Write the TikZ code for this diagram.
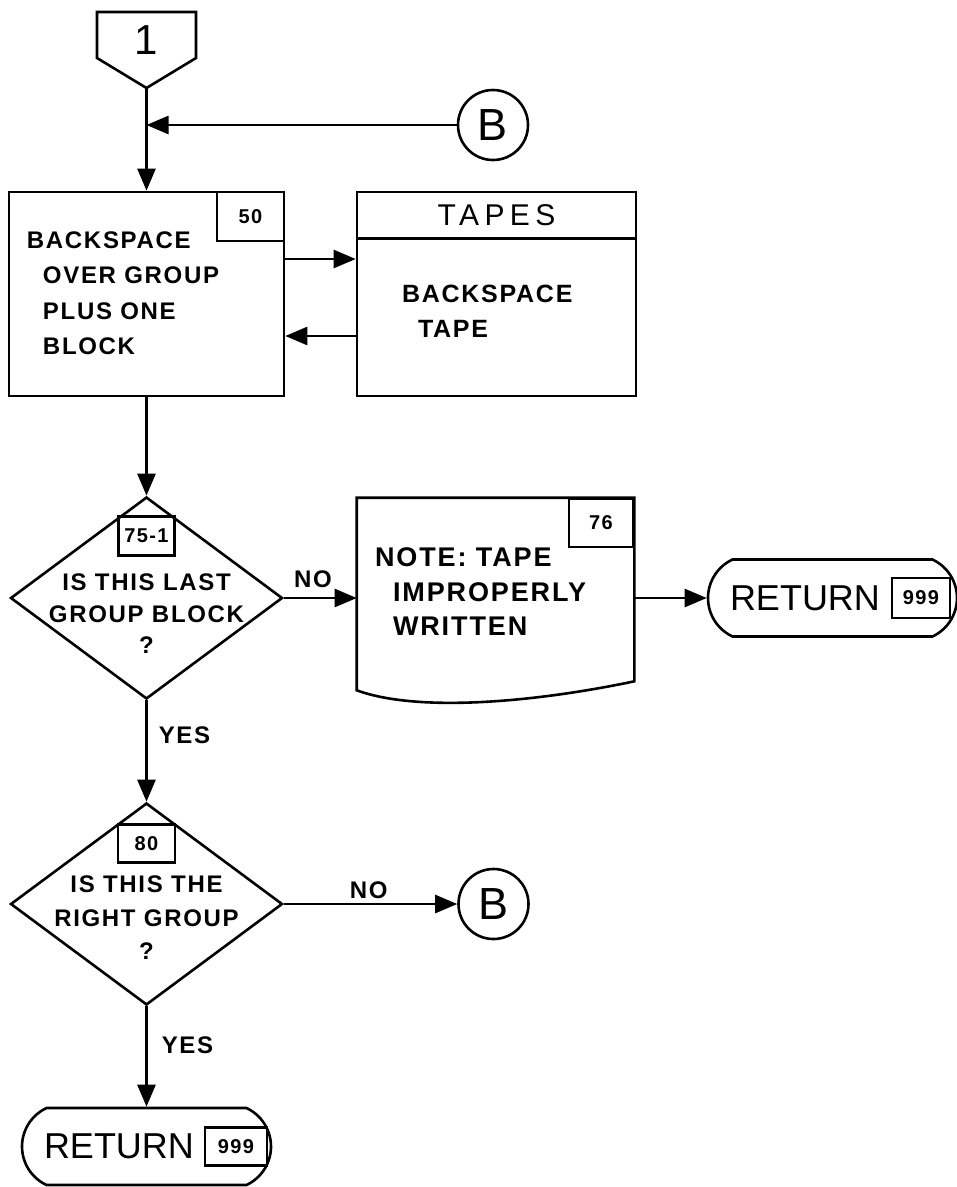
\documentclass[tikz,border=0pt]{standalone}
\usepackage{fontspec}
\setmainfont{Liberation Sans}
\newfontfamily\handfont[LetterSpace=7]{Liberation Sans}
\newfontfamily\widefont[LetterSpace=18]{Liberation Sans}
\usetikzlibrary{arrows.meta,positioning,shapes.geometric,shapes.misc,calc}

\begin{document}
\begin{tikzpicture}[x=1pt,y=-1pt,>={Triangle[length=22pt,width=18pt]},
	line width=2.6pt,every node/.style={inner sep=0pt}]
	\tikzstyle{box}=[draw,rectangle,minimum height=204pt]
	\tikzstyle{decision}=[draw,diamond,minimum width=272pt,minimum height=202pt]
	\tikzstyle{terminal}=[draw,rounded rectangle,rounded rectangle arc length=130,
		minimum width=249pt,minimum height=77pt]
	\tikzstyle{connector}=[draw,circle,minimum size=70pt,font=\fontsize{45}{45}\selectfont]
	\tikzstyle{numbox}=[draw,font=\handfont\bfseries\fontsize{20}{20}\selectfont]
	\tikzstyle{label}=[font=\handfont\bfseries\fontsize{24}{24}\selectfont]
	
	\useasboundingbox (0,0) rectangle (957,1187);
	
	% entry from page connector 1
	\node (one) at (146.5,40) {\fontsize{42}{42}\selectfont 1};
	\coordinate (onetip) at (146.5,88);
	\draw (onetip) -- (97,58) -- (97,12) -- (196,12) -- (196,58) -- cycle;
	\coordinate (join) at (146.5,125);
	\node[connector] (b1) at (493,125) {B};
	
	% backspace blocks
	\node[box,minimum width=275pt] (box50) at (146.5,294) {};
	\node[box,minimum width=279pt] (tapes) [node distance=350pt, right of=box50] {};
	\draw ($(tapes.north west)+(0,48)$) -- ($(tapes.north east)+(0,48)$);
	\node[font=\widefont\fontsize{30}{30}\selectfont] (tapeshead) at ($(tapes.north)+(0,24)$) {TAPES};
	\node[numbox,minimum width=67pt,minimum height=49pt,anchor=north east] (n50) at (box50.north east) {50};
	\node[anchor=north west,align=left,font=\handfont\bfseries\fontsize{24}{35.5}\selectfont] (t50)
		at ($(box50.north west)+(18,39.5)$) {BACKSPACE\\\hspace*{16pt}OVER GROUP\\\hspace*{16pt}PLUS ONE\\\hspace*{16pt}BLOCK};
	\node[anchor=north west,align=left,font=\handfont\bfseries\fontsize{25}{35}\selectfont] (ttapes)
		at ($(tapes.north west)+(45,93)$) {BACKSPACE\\\hspace*{16pt}TAPE};
	
	% last group block test
	\node[decision] (dec1) [node distance=304pt, below of=box50] {};
	\node[numbox,minimum width=56pt,minimum height=39pt] (n75) at ($(dec1.north)+(0,40.5)$) {75-1};
	\node[align=center,font=\handfont\bfseries\fontsize{24}{31.5}\selectfont] (t75)
		at ($(dec1.center)+(0,16)$) {IS THIS LAST\\GROUP BLOCK\\?};
	
	\node[minimum width=275pt,minimum height=198pt] (doc) [node distance=349pt, right of=dec1] {};
	\draw (doc.north west) -- (doc.north east) -- ($(doc.south east)+(0,-17)$)
		.. controls ($(doc.south west)+(183,3)$) and ($(doc.south west)+(63,15)$) .. ($(doc.south west)+(0,-8)$) -- cycle;
	\node[numbox,minimum width=64pt,minimum height=48pt,anchor=north east] (n76) at (doc.north east) {76};
	\node[anchor=north west,align=left,font=\handfont\bfseries\fontsize{27}{34.5}\selectfont] (t76)
		at ($(doc.north west)+(17,49)$) {NOTE: TAPE\\\hspace*{18pt}IMPROPERLY\\\hspace*{18pt}WRITTEN};
	
	\node[terminal] (ret1) [node distance=337pt, right of=doc] {};
	\node[anchor=west,font=\fontsize{36}{36}\selectfont] (r1) at ($(ret1.west)+(22,0)$) {RETURN};
	\node[numbox,minimum width=58pt,minimum height=40pt,anchor=west] (n999a) at ($(ret1.west)+(184,0)$) {999};
	
	% right group test
	\node[decision] (dec2) [node distance=306pt, below of=dec1] {};
	\node[numbox,minimum width=57pt,minimum height=38pt] (n80) at ($(dec2.north)+(0,42)$) {80};
	\node[align=center,font=\handfont\bfseries\fontsize{24}{33.5}\selectfont] (t80)
		at ($(dec2.center)+(0,14)$) {IS THIS THE\\RIGHT GROUP\\?};
	\node[connector] (b2) [node distance=347pt, right of=dec2] {B};
	
	\node[terminal] (ret2) [node distance=242.5pt, below of=dec2] {};
	\node[anchor=west,font=\fontsize{36}{36}\selectfont] (r2) at ($(ret2.west)+(22,0)$) {RETURN};
	\node[numbox,minimum width=62pt,minimum height=38pt,anchor=west] (n999b) at ($(ret2.west)+(183,0)$) {999};
	
	% flow lines
	\draw[->] (onetip) -- (box50);
	\draw[->] (b1) -- (join);
	\draw[->] ([yshift=35pt]box50.east) -- ([yshift=35pt]box50.east -| tapes.west);
	\draw[->] ([yshift=-42pt]tapes.west) -- ([yshift=-42pt]tapes.west -| box50.east);
	\draw[->] (box50) -- (dec1);
	\draw[->] (dec1) -- node[label,above=9pt,pos=0.4] {NO} (doc);
	\draw[->] (doc.east |- ret1.west) -- (ret1);
	\draw[->] (dec1) -- node[label,right=11pt,pos=0.34] {YES} (dec2);
	\draw[->] (dec2) -- node[label,above=4pt,pos=0.49] {NO} (b2);
	\draw[->] (dec2) -- node[label,right=14pt,pos=0.39] {YES} (ret2);
	
\end{tikzpicture}
\end{document}
